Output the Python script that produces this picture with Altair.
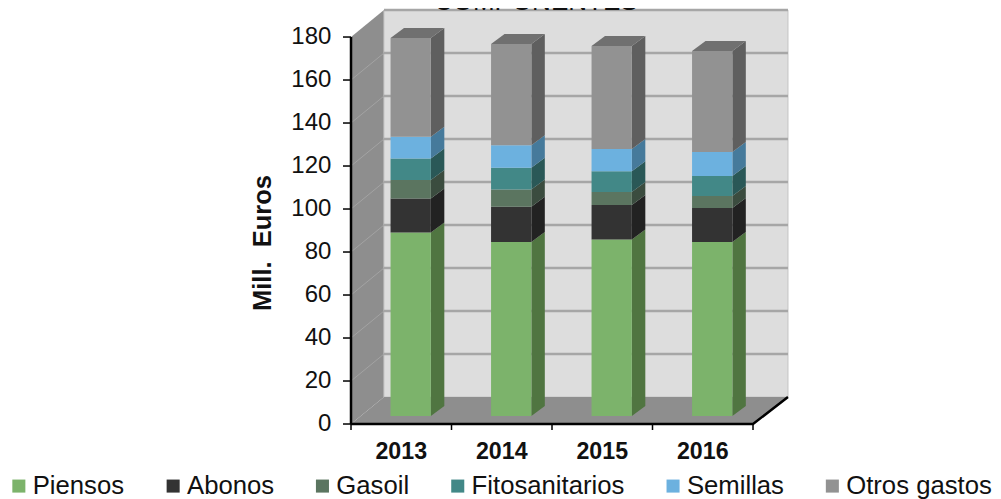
import altair as alt
import pandas as pd

years = ["2013", "2014", "2015", "2016"]
series = ["Piensos", "Abonos", "Gasoil", "Fitosanitarios", "Semillas", "Otros gastos"]
piensos = [85.4, 80.9, 82.1, 80.9]
abonos = [15.8, 16.4, 16.0, 15.8]
gasoil = [8.6, 8.1, 6.1, 5.6]
fitosanitarios = [10.0, 10.1, 9.7, 9.3]
semillas = [10.1, 10.4, 10.3, 11.2]
otros = [45.9, 47.1, 47.9, 47.0]
values = [piensos, abonos, gasoil, fitosanitarios, semillas, otros]
y_ticks = list(range(0, 181, 20))

front = ["#7CB36B", "#333333", "#5B7560", "#428887", "#6CB1DF", "#929292"]
side = ["#507541", "#222222", "#3B4C3F", "#2A5857", "#467A9B", "#5F5F5F"]

# Scale calibration: one category = 100.5 px, one Euro unit = 2.15 px
X_DOM = [-3.413, 6.388]
Y_DOM = [-34.88, 193.5]
WX, WY = 0.328, 12.56      # wall depth
WX_R = 0.348
OX, OY = 0.094, 3.72       # bar offset inside the box
BW = 0.401                 # bar width
DX, DY = 0.134, 4.65       # bar depth
TICK_X, TICK_Y = 0.08, 2.8 # tick lengths

x_s = alt.Scale(domain=X_DOM, nice=False, zero=False)
y_s = alt.Scale(domain=Y_DOM, nice=False, zero=False)
FONT = "Liberation Sans"
INK = "#111111"

rects, sides = [], []
for i, yr in enumerate(years):
    x0 = i + 0.5 - BW / 2 + OX
    x1 = x0 + BW
    base = OY
    for j, s in enumerate(series):
        top = base + values[j][i]
        rects.append(dict(x=x0, x2=x1, y=top, y2=base, s=s))
        key = f"{yr}-{s}"
        sides.append(dict(k=key, x=x1, y=top, y2=base, c=side[j]))
        sides.append(dict(k=key, x=x1 + DX, y=top + DY, y2=base + DY, c=side[j]))
        base = top
    key = f"{yr}-top"
    for x, yu, yl in [(x0, base, base), (x0 + DX, base + DY, base), (x1, base + DY, base), (x1 + DX, base + DY, base + DY)]:
        sides.append(dict(k=key, x=x, y=yu, y2=yl, c="#707070"))

X = lambda **k: alt.X("x:Q", scale=x_s, axis=None, **k)
Y = lambda **k: alt.Y("y:Q", scale=y_s, axis=None, **k)

wall_left = alt.Chart(pd.DataFrame([dict(x=0, y=180, y2=0), dict(x=WX, y=180 + WY, y2=WY)])).mark_area(
    color="#8E8E8E").encode(X(), Y(), y2="y2:Q")

wall_back = alt.Chart(pd.DataFrame([dict(x=WX, x2=4 + WX_R, y=180 + WY, y2=WY)])).mark_rect(
    color="#DDDDDD", stroke="#C4C4C4", strokeWidth=1).encode(X(), x2="x2:Q", y=Y(), y2="y2:Q")

floor = alt.Chart(pd.DataFrame([
    dict(x=0, y=0, y2=0), dict(x=WX, y=WY, y2=0), dict(x=4, y=WY, y2=0), dict(x=4 + WX_R, y=WY, y2=WY)
])).mark_area(color="#8E8E8E").encode(X(), Y(), y2="y2:Q")

grid_df = pd.DataFrame([dict(x=WX, x2=4 + WX_R, y=v + WY) for v in y_ticks[1:]])
grid = alt.Chart(grid_df).mark_rule(color="#A6A6A6", strokeWidth=2.5).encode(X(), x2="x2:Q", y=Y())

diag_rows = []
for v in y_ticks[1:-1]:
    diag_rows.append(dict(k=v, x=0, y=v))
    diag_rows.append(dict(k=v, x=WX, y=v + WY))
diag = alt.Chart(pd.DataFrame(diag_rows)).mark_line(color="#A3A3A3", strokeWidth=1).encode(X(), Y(), detail="k:N")

y_line = alt.Chart(pd.DataFrame([dict(x=0, y=0), dict(x=0, y=180)])).mark_line(color="#000000", strokeWidth=2.5).encode(X(), Y())
x_line = alt.Chart(pd.DataFrame([dict(x=0, y=0), dict(x=4, y=0), dict(x=4 + WX_R, y=WY)])).mark_line(
    color="#000000", strokeWidth=2.5).encode(X(), Y())

y_tick_marks = alt.Chart(pd.DataFrame([dict(x=-TICK_X, x2=0, y=v) for v in y_ticks])).mark_rule(
    color="#000000", strokeWidth=1.5).encode(X(), x2="x2:Q", y=Y())
x_tick_marks = alt.Chart(pd.DataFrame([dict(x=i, y=0, y2=-TICK_Y) for i in range(len(years) + 1)])).mark_rule(
    color="#000000", strokeWidth=1.5).encode(X(), y=Y(), y2="y2:Q")

y_labels = alt.Chart(pd.DataFrame([dict(x=-0.195, y=v, t=str(v)) for v in y_ticks])).mark_text(
    font=FONT, fontSize=24, color=INK, align="right", baseline="middle", dy=-0.5).encode(X(), Y(), text="t:N")

y_title = alt.Chart(pd.DataFrame([dict(x=-0.876, y=84.2, t="Mill.\u00a0\u00a0Euros")])).mark_text(
    font=FONT, fontSize=25.5, fontWeight="bold", color=INK, angle=270, baseline="middle").encode(X(), Y(), text="t:N")

bars = alt.Chart(pd.DataFrame(rects)).mark_rect().encode(
    X(), x2="x2:Q", y=Y(), y2="y2:Q",
    color=alt.Color("s:N", scale=alt.Scale(domain=series, range=front), legend=alt.Legend(
        title=None, orient="none", legendX=-2, legendY=465, direction="horizontal", columns=6,
        symbolType="square", symbolSize=170, symbolStrokeWidth=0, labelFont=FONT, labelFontSize=25.7,
        labelColor=INK, columnPadding=35.3, labelOffset=1, labelLimit=300)))

faces = alt.Chart(pd.DataFrame(sides)).mark_area().encode(
    X(), Y(), y2="y2:Q", detail="k:N", fill=alt.Fill("c:N", scale=None))

year_df = pd.DataFrame([dict(x=i + 0.5, y=-16.3, t=yr) for i, yr in enumerate(years)])
year_text = alt.Chart(year_df).mark_text(font=FONT, fontSize=23.2, fontWeight="bold", color=INK, baseline="alphabetic").encode(
    X(), Y(), text="t:N")

title_text = alt.Chart(pd.DataFrame([dict(x=1.838, y=192.6, t="COMPONENTES")])).mark_text(
    font=FONT, fontSize=26, color=INK, baseline="alphabetic").encode(X(), Y(), text="t:N")

chart = alt.layer(
    wall_left, wall_back, floor, grid, diag, x_line, y_line, y_tick_marks, x_tick_marks,
    faces, bars, y_labels, y_title, year_text, title_text
).properties(
    width=985, height=491, autosize=alt.AutoSizeParams(type="none"), padding=0
).configure_view(stroke=None)

chart.save("out.html", embed_options={"renderer": "svg", "actions": False})
